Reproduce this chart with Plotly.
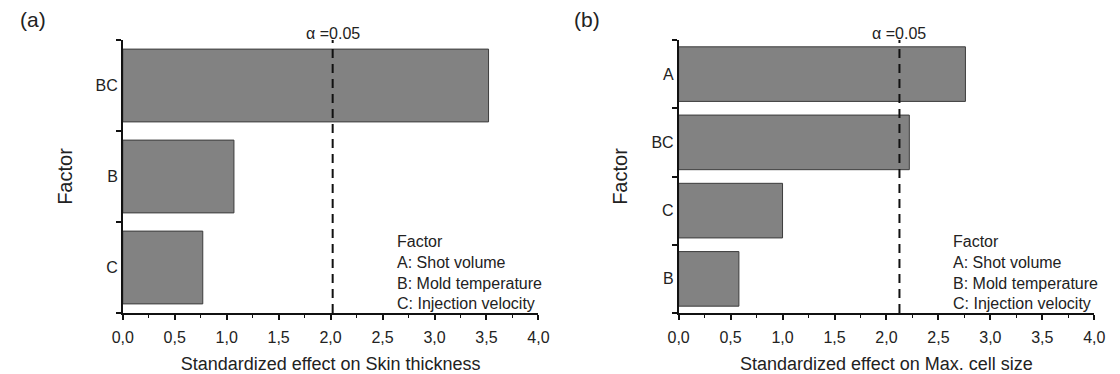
import plotly.graph_objects as go

# ---- data ----
cats_a = ["C", "B", "BC"]
vals_a = [0.77, 1.07, 3.52]
cats_b = ["B", "C", "BC", "A"]
vals_b = [0.58, 1.00, 2.22, 2.76]
alpha_crit = [2.02, 2.125]
x_titles = ["Standardized effect on Skin thickness", "Standardized effect on Max. cell size"]
panel_labels = ["(a)", "(b)"]
legend_lines = ["Factor", "A: Shot volume", "B: Mold temperature", "C: Injection velocity"]
x_tickvals = [0, 0.5, 1, 1.5, 2, 2.5, 3, 3.5, 4]

FONT = "Liberation Sans, Arial, sans-serif"
W, H = 1120, 374
ydom = [1 - 313 / H, 1 - 40 / H]
xdoms = [[114 / W, 538 / W], [681 / W, 1105 / W]]

fig = go.Figure()
panels = [(cats_a, vals_a), (cats_b, vals_b)]
for i, (cats, vals) in enumerate(panels):
    n = i + 1
    xa = "x" if n == 1 else "x2"
    ya = "y" if n == 1 else "y2"
    fig.add_trace(go.Bar(
        x=vals, y=cats, orientation="h", width=0.8,
        marker=dict(color="#828282", line=dict(color="#3c3c3c", width=1)),
        xaxis=xa, yaxis=ya, showlegend=False, hoverinfo="x+y",
    ))

fig.update_layout(
    width=W, height=H, margin=dict(l=0, r=0, t=0, b=0),
    plot_bgcolor="white", paper_bgcolor="white",
    font=dict(family=FONT, color="#222", size=16),
    separators=",.",
    bargap=0.2,
)

for i, (cats, vals) in enumerate(panels):
    n = i + 1
    sx = "" if n == 1 else "2"
    ov = "3" if n == 1 else "4"
    fig.update_layout(**{
        f"xaxis{sx}": dict(
            domain=xdoms[i], anchor=f"y{sx}", range=[0, 4],
            tickvals=x_tickvals, tickformat=".1f",
            ticks="outside", ticklen=5, tickwidth=1.5, tickcolor="#111",
            ticklabelstandoff=4,
            minor=dict(dtick=0.25, ticks="outside", ticklen=3, tickwidth=1, tickcolor="#111"),
            showline=True, linecolor="#111", linewidth=1.5,
            showgrid=False, zeroline=False,
            tickfont=dict(size=16, color="#222"),
            title=dict(text=x_titles[i], font=dict(size=18, color="#222"), standoff=13),
            fixedrange=True,
        ),
        f"yaxis{sx}": dict(
            domain=ydom, anchor=f"x{sx}", type="category",
            categoryarray=cats, categoryorder="array",
            range=[-0.5, len(cats) - 0.5],
            tickson="boundaries", ticks="outside", ticklen=5, tickwidth=1.5, tickcolor="#111",
            showline=True, linecolor="#111", linewidth=1.5,
            showgrid=False, zeroline=False,
            tickfont=dict(size=16, color="#222"),
            title=dict(text="Factor", font=dict(size=20, color="#222"), standoff=18),
            fixedrange=True,
        ),
        f"yaxis{ov}": dict(
            domain=ydom, anchor=f"x{sx}", overlaying=f"y{sx}", side="left",
            range=[-0.5, len(cats) - 0.5],
            tickvals=[k - 0.5 for k in range(len(cats) + 1)],
            ticks="inside", ticklen=5, tickwidth=1.5, tickcolor="#111",
            showticklabels=False, showline=False, showgrid=False, zeroline=False,
            fixedrange=True,
        ),
    })
    # critical value line
    fig.add_shape(type="line", xref=f"x{sx}", yref=f"y{sx} domain",
                  x0=alpha_crit[i], x1=alpha_crit[i], y0=0, y1=1,
                  line=dict(color="#111", width=2, dash="9px,6px"))
    fig.add_annotation(xref=f"x{sx}", yref="paper", x=alpha_crit[i], y=1 - 33 / H,
                       text="α =0.05", showarrow=False, xanchor="center", yanchor="middle",
                       font=dict(size=16, color="#222"))
    # factor legend text
    fig.add_annotation(xref=f"x{sx}", yref="paper", x=2.62, y=1 - 231 / H,
                       text="<br>".join(legend_lines), showarrow=False,
                       xanchor="left", yanchor="top", align="left",
                       font=dict(size=16, color="#222"))
    # panel label
    fig.add_annotation(xref="paper", yref="paper", x=[22 / W, 588 / W][i], y=1 - 20 / H,
                       text=panel_labels[i], showarrow=False, xanchor="center", yanchor="middle",
                       font=dict(size=21, color="#222"))

fig.write_html("out.html")
